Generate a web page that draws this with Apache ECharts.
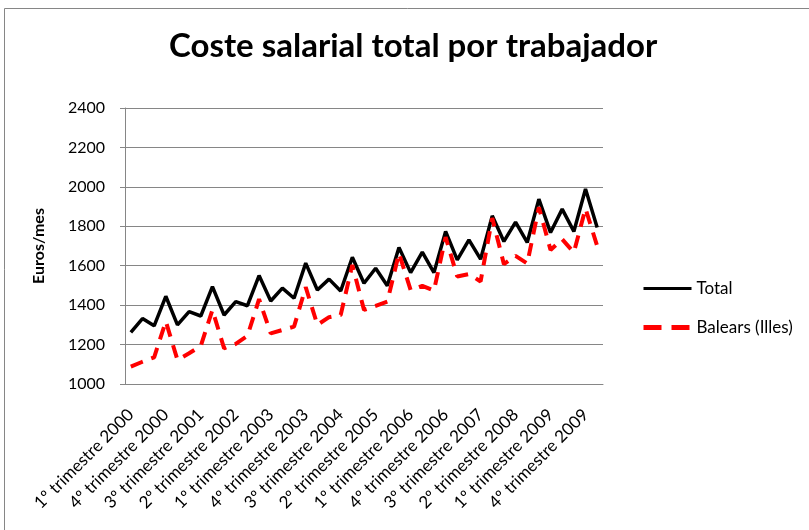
<!DOCTYPE html>
<html><head><meta charset="utf-8">
<script src="https://cdn.jsdelivr.net/npm/echarts@6/dist/echarts.min.js"></script>
<style>html,body{margin:0;padding:0;background:#fff}#c{width:809px;height:530px}</style>
</head><body><div id="c"></div>
<script>
const years = [2000,2001,2002,2003,2004,2005,2006,2007,2008,2009,2010];
const categories = [];
years.forEach(y => { for (let q = 1; q <= 4; q++) { if (y === 2010 && q > 1) break; categories.push(q + 'º trimestre ' + y); } });
const totalValues = [1262,1332,1295,1445,1300,1367,1345,1494,1350,1418,1397,1550,1421,1486,1435,1613,1477,1532,1472,1643,1511,1587,1498,1692,1565,1669,1565,1774,1630,1731,1633,1853,1723,1821,1718,1938,1768,1887,1774,1989,1794];
const balearsValues = [1088,1113,1135,1318,1122,1156,1193,1376,1181,1203,1244,1430,1257,1274,1291,1491,1300,1339,1350,1604,1376,1396,1418,1663,1477,1498,1474,1745,1545,1558,1520,1842,1608,1650,1611,1897,1680,1734,1667,1890,1700];
const yTicks = {min:1000, max:2400, interval:200};
const titleText = 'Coste salarial total por trabajador';
const yName = 'Euros/mes';
const seriesNames = ['Total', 'Balears (Illes)'];

const font = 'Lato';
const chart = echarts.init(document.getElementById('c'));
chart.setOption({
  animation: false,
  backgroundColor: '#fff',
  textStyle: {fontFamily: font},
  title: {text: titleText, left: 164, top: 25, textStyle: {fontFamily: font, fontSize: 33, fontWeight: 'bold', color: '#000'}},
  graphic: [{type:'rect', shape:{x:4.5, y:8.5, width:900, height:600}, style:{fill:'none', stroke:'#868686', lineWidth:1}, silent:true}],
  legend: {orient:'vertical', left: 636, top: 275, itemWidth: 48, itemHeight: 14, itemGap: 22,
    itemStyle: {opacity: 0},
    textStyle:{fontFamily: font, fontSize: 17, color:'#000'},
    data: [
      {name: seriesNames[0], lineStyle:{width:3, color:'#000'}},
      {name: seriesNames[1], lineStyle:{width:5, color:'#ff0000', type:[18,10]}}
    ]},
  grid: {left: 125, right: 206, top: 108, bottom: 146},
  xAxis: {type:'category', data: categories, boundaryGap: true,
    axisLine:{lineStyle:{color:'#868686', width:1}}, axisTick:{show:false},
    axisLabel:{interval: 2, rotate: 45, fontSize: 17, color:'#000', margin: 28, fontFamily: font}},
  yAxis: {type:'value', min: yTicks.min, max: yTicks.max, interval: yTicks.interval,
    name: yName, nameLocation:'middle', nameGap: 78, nameRotate: 90,
    nameTextStyle:{fontFamily: font, fontSize: 16, fontWeight:'bold', color:'#000'},
    axisLine:{show:true, lineStyle:{color:'#868686'}}, axisTick:{show:true, length:5, lineStyle:{color:'#868686'}},
    axisLabel:{fontSize: 16, color:'#000', margin: 20, fontFamily: font, formatter: v => String(v)},
    splitLine:{lineStyle:{color:'#868686', width:1}}},
  series: [
    {name: seriesNames[0], type:'line', data: totalValues, symbol:'none', lineStyle:{color:'#000', width:3.5}, itemStyle:{color:'#000'}},
    {name: seriesNames[1], type:'line', data: balearsValues, symbol:'none', lineStyle:{color:'#ff0000', width:4, type:[13,9]}, itemStyle:{color:'#ff0000'}}
  ]
});
</script></body></html>
